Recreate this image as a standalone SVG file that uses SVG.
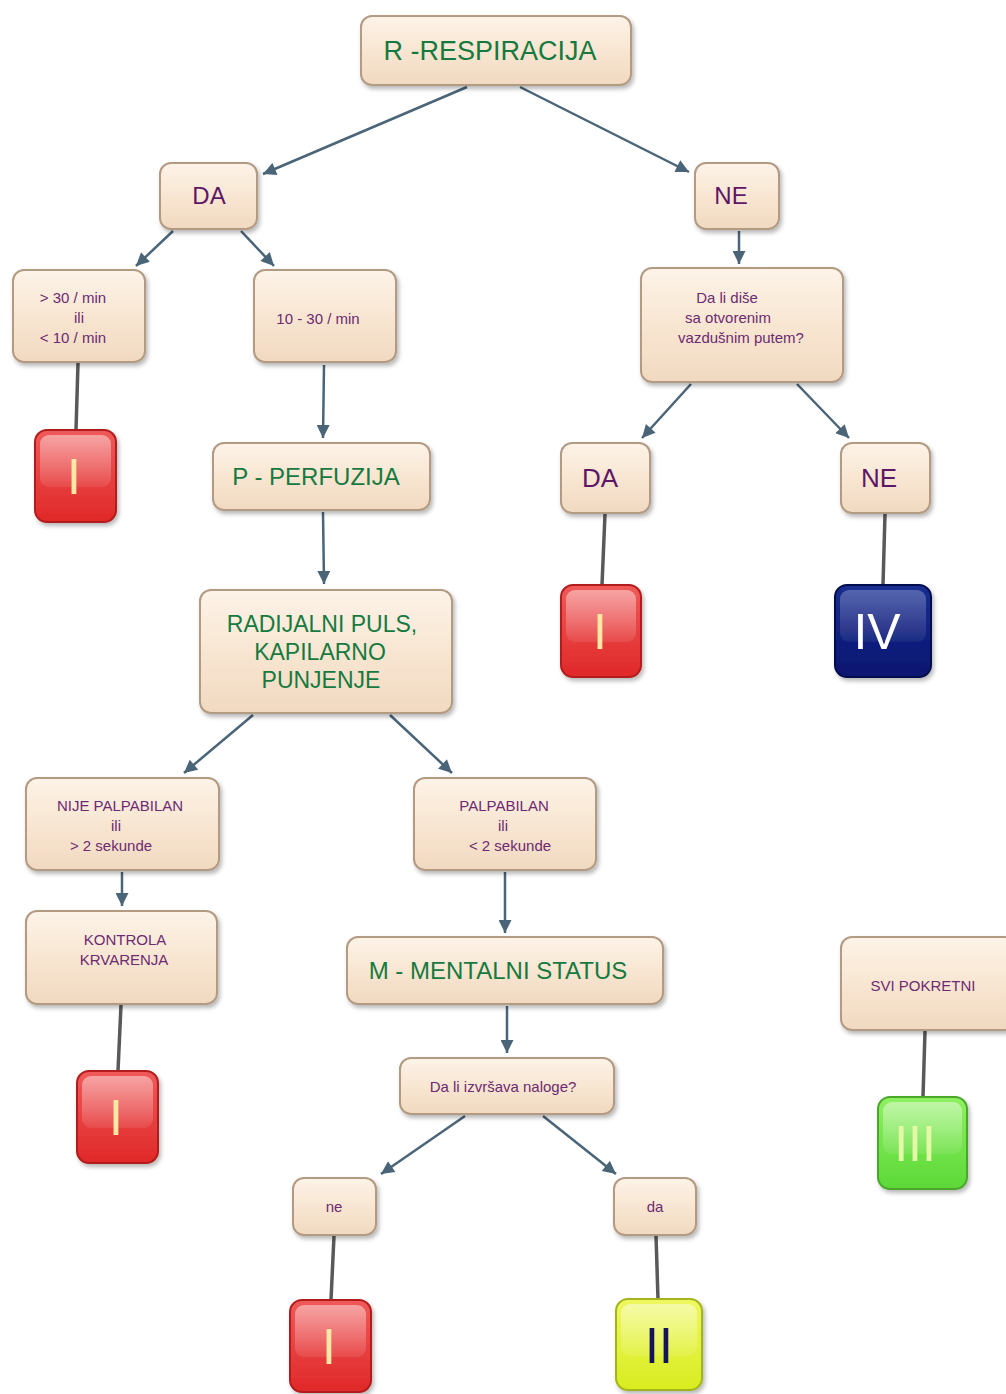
<svg xmlns="http://www.w3.org/2000/svg" width="1006" height="1394" viewBox="0 0 1006 1394">
<defs>
<linearGradient id="boxGrad" x1="0" y1="0" x2="0" y2="1">
<stop offset="0" stop-color="#fdf3e8"/>
<stop offset="0.5" stop-color="#f8e6d2"/>
<stop offset="1" stop-color="#f1d9c0"/>
</linearGradient>
<linearGradient id="redGrad" x1="0" y1="0" x2="0" y2="1">
<stop offset="0" stop-color="#f05a5a"/>
<stop offset="1" stop-color="#e02828"/>
</linearGradient>
<linearGradient id="blueGrad" x1="0" y1="0" x2="0" y2="1">
<stop offset="0" stop-color="#1a2e90"/>
<stop offset="1" stop-color="#0a1670"/>
</linearGradient>
<linearGradient id="yellowGrad" x1="0" y1="0" x2="0" y2="1">
<stop offset="0" stop-color="#eef860"/>
<stop offset="1" stop-color="#d8ec20"/>
</linearGradient>
<linearGradient id="greenGrad" x1="0" y1="0" x2="0" y2="1">
<stop offset="0" stop-color="#8ef060"/>
<stop offset="1" stop-color="#5cd838"/>
</linearGradient>
<linearGradient id="gloss" x1="0" y1="0" x2="0" y2="1">
<stop offset="0" stop-color="#ffffff" stop-opacity="0.45"/>
<stop offset="1" stop-color="#ffffff" stop-opacity="0.08"/>
</linearGradient>
<filter id="shadow" x="-20%" y="-20%" width="140%" height="150%">
<feDropShadow dx="2" dy="3" stdDeviation="2" flood-color="#000" flood-opacity="0.28"/>
</filter>
<marker id="arrow" viewBox="0 0 10 10" refX="10" refY="5" markerWidth="15" markerHeight="13" markerUnits="userSpaceOnUse" orient="auto">
<path d="M0,0 L10,5 L0,10 z" fill="#4a6478"/>
</marker>
<style>
.box{fill:url(#boxGrad);stroke:#b39a82;stroke-width:2;filter:url(#shadow)}
.t{font-family:"Liberation Sans",Arial,sans-serif;text-anchor:middle}
.big{fill:#167a40;font-size:24px}
.mid{fill:#5e1766;font-size:24px}
.sm{fill:#6e2a72;font-size:15px}
.arr{stroke:#4a6478;stroke-width:2.5;fill:none;marker-end:url(#arrow)}
.link{stroke:#595959;stroke-width:3.5;fill:none}
.rom{font-family:"Liberation Sans",Arial,sans-serif;text-anchor:middle;font-size:50px}
.gl{fill:url(#gloss)}
</style>
</defs>
<rect width="1006" height="1394" fill="#ffffff"/>

<g id="connectors">
<line class="arr" x1="467" y1="87" x2="263" y2="174"/>
<line class="arr" x1="520" y1="87" x2="689" y2="172"/>
<line class="arr" x1="173" y1="231" x2="136" y2="266"/>
<line class="arr" x1="241" y1="231" x2="274" y2="266"/>
<line class="link" x1="78" y1="363" x2="76" y2="430"/>
<line class="arr" x1="324" y1="365" x2="323" y2="438"/>
<line class="arr" x1="323" y1="512" x2="324" y2="584"/>
<line class="arr" x1="739" y1="231" x2="739" y2="264"/>
<line class="arr" x1="691" y1="384" x2="642" y2="438"/>
<line class="arr" x1="797" y1="384" x2="849" y2="438"/>
<line class="link" x1="605" y1="514" x2="602" y2="585"/>
<line class="link" x1="885" y1="514" x2="883" y2="585"/>
<line class="arr" x1="253" y1="715" x2="184" y2="773"/>
<line class="arr" x1="390" y1="715" x2="452" y2="773"/>
<line class="arr" x1="122" y1="872" x2="122" y2="906"/>
<line class="link" x1="121" y1="1005" x2="118" y2="1071"/>
<line class="arr" x1="505" y1="872" x2="505" y2="933"/>
<line class="arr" x1="507" y1="1006" x2="507" y2="1053"/>
<line class="arr" x1="465" y1="1116" x2="381" y2="1174"/>
<line class="arr" x1="543" y1="1116" x2="616" y2="1174"/>
<line class="link" x1="334" y1="1236" x2="331" y2="1300"/>
<line class="link" x1="656" y1="1236" x2="658" y2="1299"/>
<line class="link" x1="925" y1="1031" x2="923" y2="1097"/>
</g>

<g id="n-respiracija">
<rect class="box" x="361" y="16" width="270" height="69" rx="11"/>
<text class="t big" x="490" y="60" style="font-size:27px">R -RESPIRACIJA</text>
</g>

<g id="n-da1">
<rect class="box" x="160" y="163" width="97" height="66" rx="11"/>
<text class="t mid" x="209" y="204">DA</text>
</g>

<g id="n-ne1">
<rect class="box" x="695" y="163" width="84" height="66" rx="11"/>
<text class="t mid" x="731" y="204">NE</text>
</g>

<g id="n-rate-bad">
<rect class="box" x="13" y="270" width="132" height="92" rx="11"/>
<text class="t sm" x="73" y="303">&gt; 30 / min</text>
<text class="t sm" x="79" y="323">ili</text>
<text class="t sm" x="73" y="343">&lt; 10 / min</text>
</g>

<g id="n-rate-ok">
<rect class="box" x="254" y="270" width="142" height="92" rx="11"/>
<text class="t sm" x="318" y="324">10 - 30 / min</text>
</g>

<g id="n-red1">
<rect x="35" y="430" width="81" height="92" rx="12" fill="url(#redGrad)" stroke="#b31c1c" stroke-width="2" filter="url(#shadow)"/>
<rect class="gl" x="40" y="435" width="71" height="52" rx="9"/>
<text class="rom" x="74" y="494" fill="#fbe8a4">I</text>
</g>

<g id="n-perfuzija">
<rect class="box" x="213" y="443" width="217" height="67" rx="11"/>
<text class="t big" x="316" y="485">P - PERFUZIJA</text>
</g>

<g id="n-disanje">
<rect class="box" x="641" y="268" width="202" height="114" rx="11"/>
<text class="t sm" x="727" y="303">Da li diše</text>
<text class="t sm" x="728" y="323">sa otvorenim</text>
<text class="t sm" x="741" y="343">vazdušnim putem?</text>
</g>

<g id="n-da2">
<rect class="box" x="561" y="443" width="89" height="70" rx="11"/>
<text class="t mid" x="600" y="487" style="font-size:26px">DA</text>
</g>

<g id="n-ne2">
<rect class="box" x="841" y="443" width="89" height="70" rx="11"/>
<text class="t mid" x="879" y="487" style="font-size:26px">NE</text>
</g>

<g id="n-red2">
<rect x="561" y="585" width="80" height="92" rx="12" fill="url(#redGrad)" stroke="#b31c1c" stroke-width="2" filter="url(#shadow)"/>
<rect class="gl" x="566" y="590" width="70" height="52" rx="9"/>
<text class="rom" x="600" y="649" fill="#fbe8a4">I</text>
</g>

<g id="n-blue">
<rect x="835" y="585" width="96" height="92" rx="12" fill="url(#blueGrad)" stroke="#06104e" stroke-width="2" filter="url(#shadow)"/>
<rect class="gl" x="840" y="590" width="86" height="52" rx="9" opacity="0.6"/>
<text class="rom" x="877" y="649" fill="#ffffff">IV</text>
</g>

<g id="n-radijalni">
<rect class="box" x="200" y="590" width="252" height="123" rx="11"/>
<text class="t big" x="322" y="632" style="font-size:23px">RADIJALNI PULS,</text>
<text class="t big" x="320" y="660" style="font-size:23px">KAPILARNO</text>
<text class="t big" x="321" y="688" style="font-size:23px">PUNJENJE</text>
</g>

<g id="n-nije">
<rect class="box" x="26" y="778" width="193" height="92" rx="11"/>
<text class="t sm" x="120" y="811">NIJE PALPABILAN</text>
<text class="t sm" x="116" y="831">ili</text>
<text class="t sm" x="111" y="851">&gt; 2 sekunde</text>
</g>

<g id="n-palpabilan">
<rect class="box" x="414" y="778" width="182" height="92" rx="11"/>
<text class="t sm" x="504" y="811">PALPABILAN</text>
<text class="t sm" x="503" y="831">ili</text>
<text class="t sm" x="510" y="851">&lt; 2 sekunde</text>
</g>

<g id="n-kontrola">
<rect class="box" x="26" y="911" width="191" height="93" rx="11"/>
<text class="t sm" x="125" y="945">KONTROLA</text>
<text class="t sm" x="124" y="965">KRVARENJA</text>
</g>

<g id="n-red3">
<rect x="77" y="1071" width="81" height="92" rx="12" fill="url(#redGrad)" stroke="#b31c1c" stroke-width="2" filter="url(#shadow)"/>
<rect class="gl" x="82" y="1076" width="71" height="52" rx="9"/>
<text class="rom" x="116" y="1135" fill="#fbe8a4">I</text>
</g>

<g id="n-mentalni">
<rect class="box" x="347" y="937" width="316" height="67" rx="11"/>
<text class="t big" x="498" y="979">M - MENTALNI STATUS</text>
</g>

<g id="n-nalozi">
<rect class="box" x="400" y="1058" width="214" height="56" rx="11"/>
<text class="t sm" x="503" y="1092">Da li izvršava naloge?</text>
</g>

<g id="n-ne3">
<rect class="box" x="293" y="1178" width="83" height="57" rx="11"/>
<text class="t sm" x="334" y="1212">ne</text>
</g>

<g id="n-da3">
<rect class="box" x="614" y="1178" width="82" height="57" rx="11"/>
<text class="t sm" x="655" y="1212">da</text>
</g>

<g id="n-red4">
<rect x="290" y="1300" width="81" height="92" rx="12" fill="url(#redGrad)" stroke="#b31c1c" stroke-width="2" filter="url(#shadow)"/>
<rect class="gl" x="295" y="1305" width="71" height="52" rx="9"/>
<text class="rom" x="329" y="1364" fill="#fbe8a4">I</text>
</g>

<g id="n-yellow">
<rect x="616" y="1299" width="86" height="91" rx="12" fill="url(#yellowGrad)" stroke="#a4b41c" stroke-width="2" filter="url(#shadow)"/>
<rect class="gl" x="621" y="1304" width="76" height="52" rx="9"/>
<text class="rom" x="659" y="1363" fill="#14145a">II</text>
</g>

<g id="n-svi">
<rect class="box" x="841" y="937" width="175" height="93" rx="11"/>
<text class="t sm" x="923" y="991">SVI POKRETNI</text>
</g>

<g id="n-green">
<rect x="878" y="1097" width="89" height="92" rx="12" fill="url(#greenGrad)" stroke="#4aa82a" stroke-width="2" filter="url(#shadow)"/>
<rect class="gl" x="883" y="1102" width="79" height="52" rx="9"/>
<text class="rom" x="915" y="1161" fill="#e4f9a8">III</text>
</g>
</svg>
